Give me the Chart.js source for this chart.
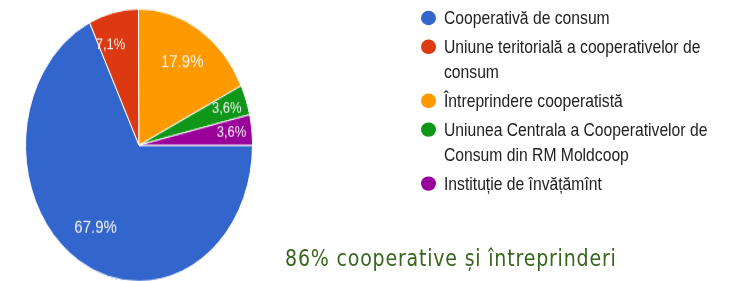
<!DOCTYPE html>
<html>
<head>
<meta charset="utf-8">
<script src="https://cdn.jsdelivr.net/npm/chart.js@4"></script>
<style>
  html, body { margin: 0; padding: 0; background: #fff; overflow: hidden; width: 733px; height: 281px; }
  #page { position: relative; width: 733px; height: 234px; transform: scaleY(1.2); transform-origin: 0 0; }
  #pieBox { position: absolute; left: 25px; top: 7px; width: 228px; height: 228px; }
  #legend { position: absolute; left: 421px; top: 4px; width: 310px; font-family: "Liberation Sans", Arial, sans-serif; font-size: 15.7px; color: #222; }
  .item { display: flex; align-items: flex-start; margin-bottom: 3px; line-height: 21px; }
  .dot { flex: none; width: 15px; height: 12.5px; border-radius: 50%; margin-top: 4.5px; margin-right: 8px; }
  .txt { width: 282px; }
  #note { position: absolute; left: 285px; top: 204px; font-family: "DejaVu Sans", sans-serif; font-size: 19px; letter-spacing: 0.8px; color: #38661d; white-space: nowrap; }
</style>
</head>
<body>
<div id="page">
  <div id="pieBox"><canvas id="pie"></canvas></div>
  <div id="legend"></div>
  <div id="note">86% cooperative și întreprinderi</div>
</div>
<script>
const categories = [
  "Cooperativă de consum",
  "Uniune teritorială a cooperativelor de consum",
  "Întreprindere cooperatistă",
  "Uniunea Centrala a Cooperativelor de Consum din RM Moldcoop",
  "Instituție de învățămînt"
];
const shares = [67.9, 7.1, 17.9, 3.6, 3.6];
const sliceText = ["67.9%", "7,1%", "17.9%", "3,6%", "3,6%"];
const colors = ["#3366cc", "#dc3912", "#ff9900", "#109618", "#990099"];

// legend on the right
const legendBox = document.getElementById('legend');
categories.forEach((name, i) => {
  const row = document.createElement('div');
  row.className = 'item';
  row.innerHTML = '<span class="dot" style="background:' + colors[i] + '"></span><span class="txt"></span>';
  row.querySelector('.txt').textContent = name;
  legendBox.appendChild(row);
});

// percent text inside the slices
const sliceLabels = {
  id: 'sliceLabels',
  afterDatasetsDraw(chart) {
    const ctx = chart.ctx;
    const total = shares.reduce((a, b) => a + b, 0);
    chart.getDatasetMeta(0).data.forEach((arc, i) => {
      const p = arc.getProps(['x', 'y', 'startAngle', 'endAngle', 'outerRadius'], true);
      let mid = (p.startAngle + p.endAngle) / 2;
      const part = shares[i] / total;
      let f = 0.72;
      if (part < 0.05) f = 0.82;
      else if (part < 0.1) { f = 0.78; mid -= 0.1; }
      ctx.save();
      ctx.fillStyle = '#f4f4f4';
      ctx.font = (part < 0.1 ? 13 : 15) + 'px "Liberation Sans", Arial, sans-serif';
      ctx.textAlign = 'center';
      ctx.textBaseline = 'middle';
      ctx.fillText(sliceText[i], p.x + Math.cos(mid) * p.outerRadius * f, p.y + Math.sin(mid) * p.outerRadius * f);
      ctx.restore();
    });
  }
};

new Chart(document.getElementById('pie').getContext('2d'), {
  type: 'pie',
  data: {
    labels: categories,
    datasets: [{
      data: shares,
      backgroundColor: colors,
      borderColor: '#ffffff',
      borderWidth: 1
    }]
  },
  options: {
    responsive: true,
    maintainAspectRatio: false,
    rotation: 90,
    animation: { duration: 0 },
    layout: { padding: 0 },
    plugins: {
      legend: { display: false },
      tooltip: { enabled: false }
    }
  },
  plugins: [sliceLabels]
});
</script>
</body>
</html>
